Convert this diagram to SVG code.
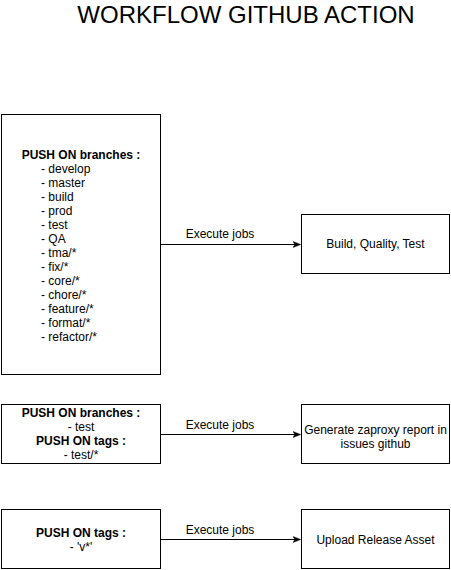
<svg xmlns="http://www.w3.org/2000/svg" width="451" height="570" viewBox="0 0 451 570">
<style>
  .box { fill: #ffffff; stroke: #000000; stroke-width: 1; }
  text { font-family: "Liberation Sans", Arial, Helvetica, sans-serif; font-size: 12px; fill: #000000; }
  .c { text-anchor: middle; }
  .b { font-weight: bold; }
  .title { font-size: 24px; text-anchor: middle; }
  .edge { stroke: #000000; stroke-width: 1; fill: none; marker-end: url(#arrow); }
</style>
<defs>
  <marker id="arrow" viewBox="0 0 10 10" refX="9" refY="5" markerWidth="8" markerHeight="8" markerUnits="userSpaceOnUse" orient="auto">
    <path d="M0,1 L10,5 L0,9 L2.5,5 Z" fill="#000000" stroke="#000000" stroke-width="0.5"/>
  </marker>
</defs>
<rect width="451" height="570" fill="#ffffff"/>
<g id="title">
  <text class="title" x="246" y="23">WORKFLOW GITHUB ACTION</text>
</g>
<g id="connectors">
  <path class="edge" d="M161,244.5 L300,244.5"/>
  <text class="c" x="220" y="238">Execute jobs</text>
  <path class="edge" d="M161,434.5 L300,434.5"/>
  <text class="c" x="220" y="429">Execute jobs</text>
  <path class="edge" d="M161,539.5 L300,539.5"/>
  <text class="c" x="220" y="534">Execute jobs</text>
</g>
<g id="node-push-branches">
  <rect class="box" x="1.5" y="114.5" width="159" height="260"/>
  <text class="c b" x="81" y="159">PUSH ON branches :</text>
  <text x="41" y="173">- develop</text>
  <text x="41" y="187">- master</text>
  <text x="41" y="201">- build</text>
  <text x="41" y="215">- prod</text>
  <text x="41" y="229">- test</text>
  <text x="41" y="243">- QA</text>
  <text x="41" y="257">- tma/*</text>
  <text x="41" y="271">- fix/*</text>
  <text x="41" y="285">- core/*</text>
  <text x="41" y="299">- chore/*</text>
  <text x="41" y="313">- feature/*</text>
  <text x="41" y="327">- format/*</text>
  <text x="41" y="341">- refactor/*</text>
</g>
<g id="node-build">
  <rect class="box" x="301.5" y="214.5" width="148" height="59"/>
  <text class="c" x="375.5" y="248">Build, Quality, Test</text>
</g>
<g id="node-push-test">
  <rect class="box" x="1.5" y="404.5" width="159" height="59"/>
  <text class="c b" x="81" y="417">PUSH ON branches :</text>
  <text class="c" x="81" y="431">- test</text>
  <text class="c b" x="81" y="445">PUSH ON tags :</text>
  <text class="c" x="81" y="459">- test/*</text>
</g>
<g id="node-zaproxy">
  <rect class="box" x="301.5" y="404.5" width="148" height="59"/>
  <text class="c" x="375.5" y="434">Generate zaproxy report in</text>
  <text class="c" x="375.5" y="448">issues github</text>
</g>
<g id="node-push-tags">
  <rect class="box" x="1.5" y="509.5" width="159" height="59"/>
  <text class="c b" x="81" y="537">PUSH ON tags :</text>
  <text class="c" x="81" y="551">- 'v*'</text>
</g>
<g id="node-upload">
  <rect class="box" x="301.5" y="509.5" width="148" height="59"/>
  <text class="c" x="375.5" y="544">Upload Release Asset</text>
</g>
</svg>
